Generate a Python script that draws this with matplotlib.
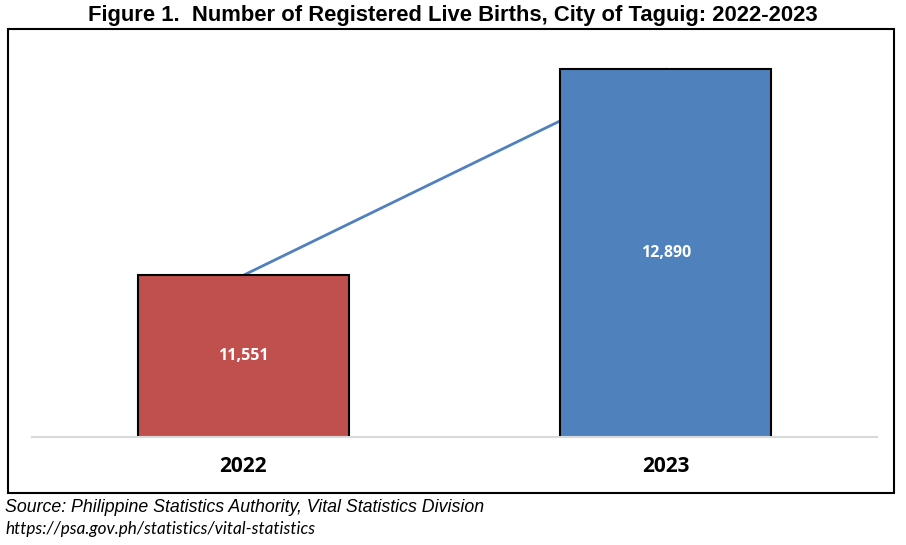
import matplotlib
matplotlib.use('Agg')
from matplotlib import pyplot as plt
from matplotlib.patches import Rectangle

years = ['2022', '2023']
births = [11551, 12890]
bar_colors = ['#C0504D', '#4F81BD']

fig = plt.figure(figsize=(9.06, 5.45), dpi=100)

# outer frame around the chart area
frame = Rectangle((8 / 906, 1 - 493 / 545), 886 / 906, 464 / 545, transform=fig.transFigure,
                  fill=False, edgecolor='black', linewidth=1.5)
fig.patches.append(frame)

ax = fig.add_axes([32 / 906, 108 / 545, 845 / 906, 384.5 / 545])
x = range(len(years))
ax.plot(x, births, color='#4F81BD', linewidth=2, zorder=1)
ax.bar(x, births, width=0.5, color=bar_colors, edgecolor='black', linewidth=1.5, zorder=2)
for i, v in enumerate(births):
    ax.text(i, 10500 + (v - 10500) / 2, f'{v:,}', ha='center', va='center',
            color='white', fontweight='bold', fontsize=11.5, family=['Open Sans', 'DejaVu Sans'])

ax.set_xlim(-0.5, 1.5)
ax.set_ylim(10500, 13000)
ax.set_yticks([])
ax.set_xticks(list(x))
ax.set_xticklabels(years, fontsize=15, fontweight='bold', family=['Open Sans', 'DejaVu Sans'])
ax.tick_params(axis='x', length=0, pad=14)
for s in ['top', 'left', 'right']:
    ax.spines[s].set_visible(False)
ax.spines['bottom'].set_color('#D9D9D9')
ax.spines['bottom'].set_linewidth(1.5)

fig.text(0.5, 1 - 16 / 545, 'Figure 1.  Number of Registered Live Births, City of Taguig: 2022-2023',
         ha='center', va='center', fontsize=15.8, fontweight='bold',
         family=['Liberation Sans Narrow', 'Liberation Sans', 'DejaVu Sans'])
fig.text(5 / 906, 1 - 508 / 545, 'Source: Philippine Statistics Authority, Vital Statistics Division',
         ha='left', va='center', fontsize=12.8, style='italic',
         family=['Liberation Sans Narrow', 'Liberation Sans', 'DejaVu Sans'])
fig.text(5 / 906, 1 - 529 / 545, 'https://psa.gov.ph/statistics/vital-statistics',
         ha='left', va='center', fontsize=12.3, style='italic', family=['Lato', 'DejaVu Sans'])

plt.savefig('out.png', dpi=100)
